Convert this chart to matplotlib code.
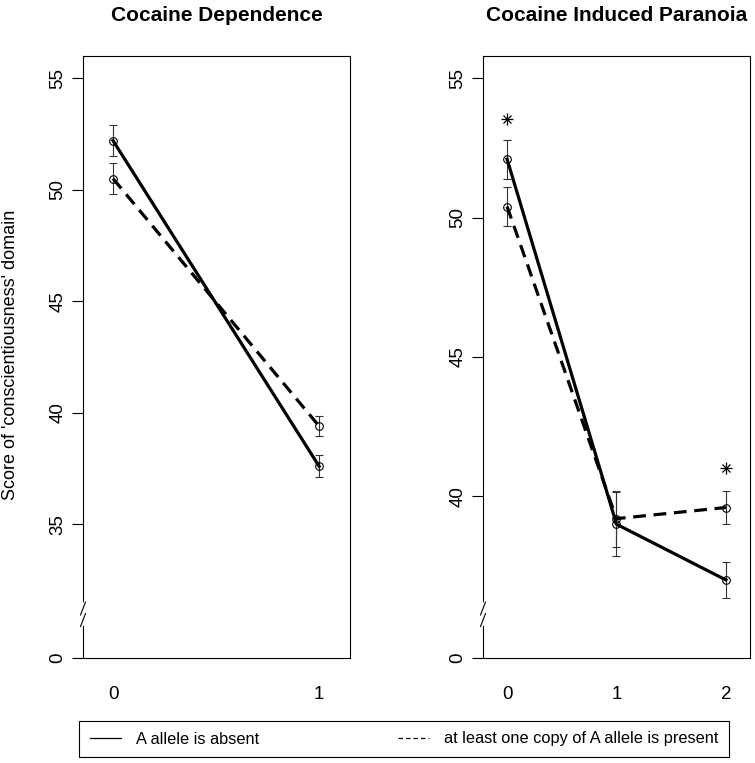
import numpy as np
import matplotlib
matplotlib.use('Agg')
import matplotlib.pyplot as plt
from matplotlib.lines import Line2D

plt.rcParams['font.family'] = ['Liberation Sans', 'DejaVu Sans']

# Cocaine Dependence panel
dep_x = [0, 1]
dep_xlabels = ['0', '1']
dep_absent = [52.2, 37.6]
dep_absent_se = [0.7, 0.5]
dep_present = [50.5, 39.4]
dep_present_se = [0.7, 0.45]
dep_yticks = [29, 35, 40, 45, 50, 55]
dep_ylabels = ['0', '35', '40', '45', '50', '55']

# Cocaine Induced Paranoia panel
par_x = [0, 1, 2]
par_xlabels = ['0', '1', '2']
par_absent = [52.1, 39.0, 37.0]
par_absent_se = [0.7, 1.15, 0.63]
par_present = [50.4, 39.2, 39.6]
par_present_se = [0.7, 1.0, 0.58]
par_star_x = [0, 2]
par_star_y = [53.55, 41.0]
par_yticks = [34.2, 40, 45, 50, 55]
par_ylabels = ['0', '40', '45', '50', '55']

legend_labels = ['A allele is absent', 'at least one copy of A allele is present']

W, H = 755, 763
fig = plt.figure(figsize=(W / 100, H / 100), dpi=100)
ax1 = fig.add_axes([83 / W, 1 - 658 / H, 267 / W, 602 / H])
ax2 = fig.add_axes([483 / W, 1 - 658 / H, 267 / W, 602 / H])


def draw_panel(ax, x, absent, absent_se, present, present_se, title,
               xlim, ylim, yticks, ylabels, xlabels):
    for y, se in ((absent, absent_se), (present, present_se)):
        ax.errorbar(x, y, yerr=se, fmt='none', ecolor='#333333',
                    elinewidth=0.8, capsize=3, capthick=0.8, zorder=2)
    ax.plot(x, absent, color='black', lw=2.3, marker='o', ms=5.5,
            mfc='none', mec='black', mew=0.8, zorder=3)
    ax.plot(x, present, color='black', lw=2.3, ls=(0, (4, 2.4)), marker='o',
            ms=5.5, mfc='none', mec='black', mew=0.8, zorder=3)
    ax.set_xlim(*xlim)
    ax.set_ylim(*ylim)
    ax.set_yticks(yticks)
    ax.set_yticklabels(ylabels)
    ax.set_xticks(x)
    ax.set_xticklabels(xlabels)
    ax.tick_params(axis='y', length=8, width=0.8, pad=4, labelsize=13.5,
                   labelrotation=90)
    for lab in ax.get_yticklabels():
        lab.set_verticalalignment('center')
    ax.tick_params(axis='x', length=0, pad=20, labelsize=13.5)
    for sp in ax.spines.values():
        sp.set_linewidth(0.8)
    ax.set_title(title, fontsize=15, fontweight='bold', pad=25)
    # axis break marks
    ax.plot([0, 0], [0.056, 0.092], transform=ax.transAxes, color='white',
            lw=2, clip_on=False, zorder=5)
    for yc in (0.0822, 0.0631):
        ax.plot([-0.0094, 0.0094], [yc - 0.0108, yc + 0.0108],
                transform=ax.transAxes, color='black', lw=0.8,
                clip_on=False, zorder=6)


draw_panel(ax1, dep_x, dep_absent, dep_absent_se, dep_present, dep_present_se,
           'Cocaine Dependence', (-0.146, 1.15), (29, 56),
           dep_yticks, dep_ylabels, dep_xlabels)
draw_panel(ax2, par_x, par_absent, par_absent_se, par_present, par_present_se,
           'Cocaine Induced Paranoia', (-0.22, 2.22), (34.2, 55.8),
           par_yticks, par_ylabels, par_xlabels)

# significance stars (pch 8 style)
ax2.plot(par_star_x, par_star_y, ls='none', marker='+', ms=8, mew=0.9, color='black')
ax2.plot(par_star_x, par_star_y, ls='none', marker='x', ms=6, mew=0.9, color='black')

fig.text(11 / W, 1 - 355 / H, "Score of 'conscientiousness' domain",
         rotation=90, ha='center', va='center', fontsize=13)

handles = [Line2D([], [], color='black', lw=0.9),
           Line2D([], [], color='black', lw=0.9, ls=(0, (3.6, 2.4)))]
leg = fig.legend(handles, legend_labels, ncol=2, loc='center',
                 bbox_to_anchor=(71 / W, 1 - 759 / H, 666 / W, 40 / H),
                 mode='expand', fontsize=11.8, handlelength=1.9,
                 handletextpad=0.9, borderpad=0.65, fancybox=False,
                 edgecolor='black', framealpha=1)
leg.get_frame().set_linewidth(0.8)

fig.savefig('out.png', dpi=100)
